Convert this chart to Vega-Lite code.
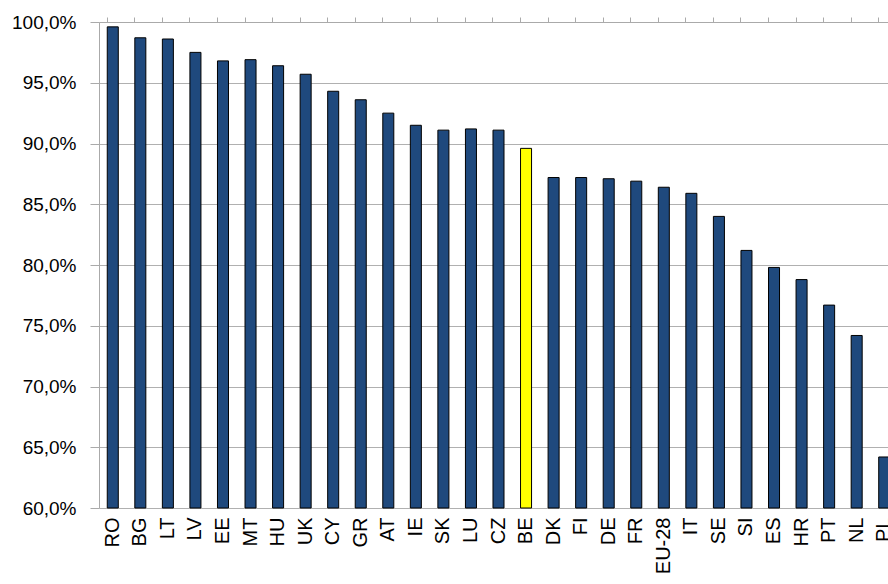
{
  "$schema": "https://vega.github.io/schema/vega-lite/v6.json",
  "autosize": {"type": "none"},
  "width": 789,
  "height": 486,
  "padding": {"left": 99, "top": 22, "right": 0, "bottom": 76},
  "background": "white",
  "config": {
    "view": {"stroke": null},
    "font": "Liberation Sans"
  },
  "data": {
    "values": [
      {"country": "RO", "value": 99.6},
      {"country": "BG", "value": 98.7},
      {"country": "LT", "value": 98.6},
      {"country": "LV", "value": 97.5},
      {"country": "EE", "value": 96.8},
      {"country": "MT", "value": 96.9},
      {"country": "HU", "value": 96.4},
      {"country": "UK", "value": 95.7},
      {"country": "CY", "value": 94.3},
      {"country": "GR", "value": 93.6},
      {"country": "AT", "value": 92.5},
      {"country": "IE", "value": 91.5},
      {"country": "SK", "value": 91.1},
      {"country": "LU", "value": 91.2},
      {"country": "CZ", "value": 91.1},
      {"country": "BE", "value": 89.6},
      {"country": "DK", "value": 87.2},
      {"country": "FI", "value": 87.2},
      {"country": "DE", "value": 87.1},
      {"country": "FR", "value": 86.9},
      {"country": "EU-28", "value": 86.4},
      {"country": "IT", "value": 85.9},
      {"country": "SE", "value": 84.0},
      {"country": "SI", "value": 81.2},
      {"country": "ES", "value": 79.8},
      {"country": "HR", "value": 78.8},
      {"country": "PT", "value": 76.7},
      {"country": "NL", "value": 74.2},
      {"country": "PL", "value": 64.2}
    ]
  },
  "resolve": {"axis": {"x": "independent"}},
  "layer": [
    {
      "mark": {"type": "bar", "stroke": "#000000", "strokeWidth": 1},
      "encoding": {
        "x": {
          "field": "country",
          "type": "nominal",
          "sort": null,
          "scale": {"range": [0, 799], "paddingInner": 0.6, "paddingOuter": 0.3},
          "axis": {
            "title": null,
            "labelAngle": -90,
            "labelAlign": "right",
            "labelBaseline": "middle",
            "labelFont": "Liberation Sans",
            "labelFontSize": 20,
            "labelColor": "#000000",
            "labelPadding": 9,
            "ticks": false,
            "domain": false,
            "grid": false
          }
        },
        "y": {
          "field": "value",
          "type": "quantitative",
          "scale": {"domain": [60, 100], "zero": false, "nice": false},
          "axis": {
            "title": null,
            "values": [60, 65, 70, 75, 80, 85, 90, 95, 100],
            "labelExpr": "replace(format(datum.value, '.1f'), '.', ',') + '%'",
            "labelFont": "Liberation Sans",
            "labelFontSize": 19,
            "labelColor": "#000000",
            "labelPadding": 14,
            "tickSize": 9,
            "tickColor": "#aaaaaa",
            "domainColor": "#aaaaaa",
            "gridColor": "#b0b0b0",
            "grid": true
          }
        },
        "y2": {"datum": 60},
        "color": {
          "condition": {"test": "datum.country === 'BE'", "value": "#FFFF00"},
          "value": "#1F497D"
        }
      }
    },
    {
      "mark": {"type": "tick", "opacity": 0},
      "encoding": {
        "x": {
          "field": "country",
          "type": "nominal",
          "sort": null,
          "axis": {
            "title": null,
            "labels": false,
            "bandPosition": 0,
            "tickSize": 5,
            "tickColor": "#aaaaaa",
            "domainColor": "#aaaaaa",
            "grid": false
          }
        },
        "y": {"field": "value", "type": "quantitative"}
      }
    }
  ]
}
